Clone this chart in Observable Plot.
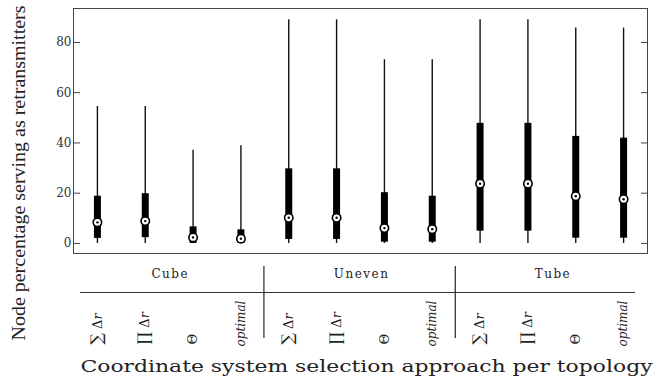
<!DOCTYPE html>
<html><head><meta charset="utf-8">
<script src="https://cdn.jsdelivr.net/npm/d3@7"></script>
<script src="https://cdn.jsdelivr.net/npm/@observablehq/plot@0.6"></script>
<style>body{margin:0;background:#fff} svg{font-family:"DejaVu Serif",serif}</style>
</head><body><div id="chart"></div>
<script>
const topologies = ["Cube", "Uneven", "Tube"];
const approaches = ["∑ Δr", "∏ Δr", "Θ", "optimal"];
const whiskerMin = [0, 0, 0, 0, 0, 0, 0, 0, 0, 0, 0, 0];
const whiskerMax = [54.5, 54.5, 37.1, 38.9, 89, 89, 73.1, 73.1, 89, 89, 85.7, 85.7];
const q1 = [2.0, 2.3, 0, 0, 1.6, 1.6, 0.5, 0.5, 4.9, 4.9, 2.1, 2.1];
const q3 = [18.8, 19.8, 6.6, 5.4, 29.7, 29.7, 20.2, 18.8, 47.8, 47.8, 42.6, 41.9];
const medians = [8.4, 8.9, 2.4, 1.9, 10.2, 10.2, 6.1, 5.7, 23.8, 23.8, 18.8, 17.6];
const yTicks = [0, 20, 40, 60, 80];
const yDomain = [-4, 93.5];
const xTitle = "Coordinate system selection approach per topology";
const yTitle = "Node percentage serving as retransmitters";

const rows = [];
topologies.forEach((t, ti) => approaches.forEach((a, ai) => {
  const i = ti * approaches.length + ai;
  rows.push({key: t + "|" + a, topology: t, approach: a,
    min: whiskerMin[i], max: whiskerMax[i], q1: q1[i], q3: q3[i], median: medians[i]});
}));
const keys = rows.map(d => d.key);
const groupRows = topologies.map(t => ({key: t + "|" + approaches[1], topology: t}));
const sepKeys = topologies.slice(0, -1).map(t => t + "|" + approaches[3]);

const plot = Plot.plot({
  width: 657, height: 377,
  marginLeft: 73, marginRight: 10, marginTop: 8, marginBottom: 124,
  style: {fontFamily: "DejaVu Serif, serif", background: "white"},
  x: {type: "point", domain: keys, padding: 0.5, round: false, axis: null},
  y: {domain: yDomain, axis: null},
  marks: [
    Plot.frame({stroke: "#444", strokeWidth: 1}),
    Plot.axisY({anchor: "left", ticks: yTicks, tickSize: -7, tickPadding: 9, label: null, fontSize: 12, stroke: "#444", fill: "#333"}),
    Plot.axisY({anchor: "right", ticks: yTicks, tickSize: -7, tickFormat: () => "", label: null, stroke: "#444"}),
    Plot.ruleX(rows, {x: "key", y1: "min", y2: "max", strokeWidth: 1.4, stroke: "#111"}),
    Plot.ruleX(rows, {x: "key", y1: "q1", y2: "q3", strokeWidth: 7, stroke: "black"}),
    Plot.dot(rows, {x: "key", y: "median", r: 4.2, fill: "white", stroke: "black", strokeWidth: 1.6}),
    Plot.dot(rows, {x: "key", y: "median", r: 1.2, fill: "black"}),
    Plot.text(rows.filter(d => d.approach !== "optimal"), {x: "key", text: "approach", frameAnchor: "bottom", rotate: -90, textAnchor: "start", lineAnchor: "middle", dy: 91, fontSize: 13, fill: "#222"}),
    Plot.text(rows.filter(d => d.approach === "optimal"), {x: "key", text: "approach", frameAnchor: "bottom", rotate: -90, textAnchor: "start", lineAnchor: "middle", dy: 93, fontSize: 12, fontStyle: "italic", fill: "#222"}),
    Plot.text(groupRows, {x: "key", text: "topology", frameAnchor: "bottom", lineAnchor: "middle", dy: 21, dx: 25, fontSize: 12, fill: "#222"}),
    Plot.ruleY([yDomain[0]], {dy: 39, insetLeft: 7, insetRight: 12, stroke: "#333"}),
    Plot.ruleX(sepKeys, {x: d => d, dx: 23, insetTop: 258, insetBottom: -85, stroke: "#222", strokeWidth: 1.2}),
    Plot.text([xTitle], {frameAnchor: "bottom", lineAnchor: "middle", textAnchor: "middle", dy: 113, dx: 6, fontSize: 16, fill: "#222"}),
    Plot.text([yTitle], {frameAnchor: "left", rotate: -90, textAnchor: "middle", lineAnchor: "middle", dx: -54, dy: 42, fontSize: 18, fill: "#222", fontFamily: "Liberation Serif, serif"})
  ]
});
document.getElementById("chart").appendChild(plot);
const svg = d3.select(plot);
svg.selectAll("text").filter(function () { return this.textContent === xTitle; })
  .attr("textLength", 572).attr("lengthAdjust", "spacingAndGlyphs");
svg.selectAll("text").filter(function () { return this.textContent === yTitle; })
  .attr("textLength", 335).attr("lengthAdjust", "spacingAndGlyphs");
svg.selectAll("text").filter(function () { return topologies.includes(this.textContent); })
  .style("letter-spacing", "1.5px");
svg.selectAll("text").filter(function () { return this.textContent === approaches[0] || this.textContent === approaches[1]; })
  .each(function () {
    const s = this.textContent;
    const t = d3.select(this).text("");
    t.append("tspan").style("font-size", "16px").text(s[0]);
    t.append("tspan").text(" Δ");
    t.append("tspan").style("font-style", "italic").text("r");
  });
</script></body></html>
